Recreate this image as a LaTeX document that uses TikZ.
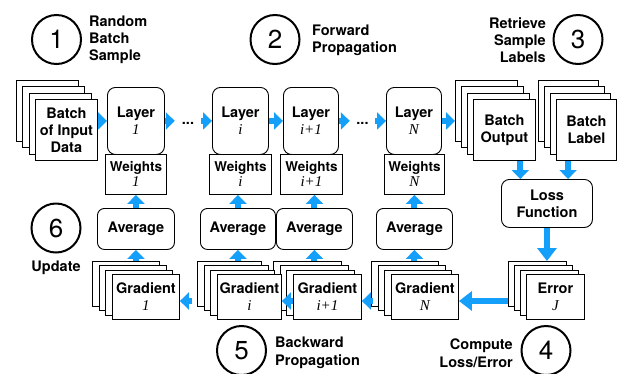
\documentclass[tikz,border=0pt]{standalone}
\usepackage{fontspec}
\setmainfont{TeX Gyre Heros}
\newfontfamily\varfont{Liberation Serif}
\usetikzlibrary{arrows.meta,calc}
\definecolor{arrowblue}{RGB}{20,160,250}
\newcommand\varlab[1]{{\varfont\mdseries\itshape\fontsize{15}{16}\selectfont #1}}
\tikzset{
  sheet/.style={draw=black, fill=white, line width=0.9pt, inner sep=0pt},
  boxtext/.style={font=\bfseries\fontsize{14.5}{17}\selectfont, align=center},
  wtext/.style={font=\bfseries\fontsize{13.5}{15}\selectfont, align=center},
  roundbox/.style={draw=black, fill=white, line width=0.9pt, inner sep=0pt, rounded corners=8pt},
  barrow/.style={draw=arrowblue, line width=6pt, -{Triangle[width=17pt,length=9pt]}},
  bigarrow/.style={draw=arrowblue, line width=6pt, -{Triangle[width=19pt,length=13pt]}},
  stepcircle/.style={circle, draw=black, line width=2pt, minimum size=49pt, inner sep=0pt, font=\fontsize{26}{26}\selectfont},
  lbl/.style={font=\bfseries\fontsize{14.5}{17}\selectfont, inner sep=0pt},
}
% #1 name, #2 x back, #3 y back, #4 w, #5 h, #6 dx, #7 dy, #8 text
\newcommand\sheetstack[8]{%
  \foreach \k in {0,1,2}{%
    \node[sheet, minimum width=#4pt, minimum height=#5pt, anchor=north west] (#1-\k) at ({#2+\k*#6},{#3+\k*#7}) {};
  }
  \node[sheet, boxtext, minimum width=#4pt, minimum height=#5pt, anchor=north west] (#1) at ({#2+3*#6},{#3+3*#7}) {#8};
}
\begin{document}
\begin{tikzpicture}[x=1pt,y=-1pt]
\useasboundingbox (0,0) rectangle (617,373);

% step circles and labels
\node[stepcircle] (c1) at (56.5,39.5) {1};
\node[stepcircle] (c2) at (275,39.5) {2};
\node[stepcircle] (c3) at (578,39.5) {3};
\node[stepcircle] (c6) at (56,228) {6};
\node[stepcircle] (c5) at (241.5,350.5) {5};
\node[stepcircle] (c4) at (546,350.5) {4};

\node[lbl, anchor=west, align=left] (t1) at (89,40) {Random\\Batch\\Sample};
\node[lbl, anchor=west, align=left] (t2) at (312,40.5) {Forward\\Propagation};
\node[lbl, anchor=east, align=right] (t3) at (546,40) {Retrieve\\Sample\\Labels};
\node[lbl] (t6) at (56,268) {Update};
\node[lbl, anchor=west, align=left, font=\bfseries\fontsize{14.5}{18}\selectfont] (t5) at (275,353) {Backward\\Propagation};
\node[lbl, anchor=east, align=right, font=\bfseries\fontsize{14.5}{18}\selectfont] (t4) at (513,353) {Compute\\Loss/Error};

% top row stacks
\sheetstack{in}{16}{80}{62}{61}{6.33}{6.33}{Batch\\of Input\\Data}
\sheetstack{bo}{455}{80}{62}{61}{6}{6.33}{Batch\\Output}
\sheetstack{bl}{538}{80}{60}{61}{6}{6.33}{Batch\\Label}

% layers
\node[roundbox, boxtext, anchor=north west, minimum width=57pt, minimum height=67pt] (L1) at (107,87) {Layer\\\varlab{1}};
\node[roundbox, boxtext, anchor=north west, minimum width=56pt, minimum height=67pt] (Li) at (212,87) {Layer\\\varlab{i}};
\node[roundbox, boxtext, anchor=north west, minimum width=55pt, minimum height=67pt] (Lj) at (283,87) {Layer\\\varlab{i+1}};
\node[roundbox, boxtext, anchor=north west, minimum width=55pt, minimum height=67pt] (LN) at (386,87) {Layer\\\varlab{N}};

% weights
\node[sheet, wtext, anchor=north west, minimum width=61pt, minimum height=40pt] (W1) at (105,154) {Weights\\\varlab{1}};
\node[sheet, wtext, anchor=north west, minimum width=62pt, minimum height=40pt] (Wi) at (209,154) {Weights\\\varlab{i}};
\node[sheet, wtext, anchor=north west, minimum width=62pt, minimum height=40pt] (Wj) at (280,154) {Weights\\\varlab{i+1}};
\node[sheet, wtext, anchor=north west, minimum width=60pt, minimum height=40pt] (WN) at (384,154) {Weights\\\varlab{N}};

% averages
\node[roundbox, boxtext, rounded corners=7pt, anchor=north west, minimum width=77pt, minimum height=41pt] (A1) at (97,208) {Average};
\node[roundbox, boxtext, rounded corners=7pt, anchor=north west, minimum width=75pt, minimum height=41pt] (Ai) at (200,208) {Average};
\node[roundbox, boxtext, rounded corners=7pt, anchor=north west, minimum width=76pt, minimum height=41pt] (Aj) at (276,208) {Average};
\node[roundbox, boxtext, rounded corners=7pt, anchor=north west, minimum width=76pt, minimum height=41pt] (AN) at (376,208) {Average};

% loss function
\node[roundbox, boxtext, anchor=north west, minimum width=91pt, minimum height=48pt] (LF) at (501,179) {Loss\\Function};

% gradient stacks (right to left so fronts cover)
\sheetstack{err}{508}{261}{58}{45}{6}{4.33}{Error\\\varlab{J}}
\sheetstack{gN}{371}{261}{67}{45}{6.67}{4.33}{Gradient\\\varlab{N}}
\sheetstack{gj}{273}{261}{68}{45}{6.67}{4.33}{Gradient\\\varlab{i+1}}
\sheetstack{gi}{197}{261}{64}{45}{6.67}{4.33}{Gradient\\\varlab{i}}
\sheetstack{g1}{92}{261}{67}{45}{6.67}{4.33}{Gradient\\\varlab{1}}

% dots
\node[lbl, minimum width=26pt] (d1) at (188,123) {...};
\node[lbl, minimum width=25pt] (d2) at (362.5,123) {...};

% forward arrows
\draw[barrow] (L1.west -| in.east) -- (L1.west);
\draw[barrow] (L1.east) -- (L1.east -| d1.west);
\draw[barrow] (d1.east |- Li.west) -- (Li.west);
\draw[barrow] (Li.east) -- (Lj.west);
\draw[barrow] (Lj.east) -- (Lj.east -| d2.west);
\draw[barrow] (d2.east |- LN.west) -- (LN.west);
\draw[barrow] (LN.east) -- (LN.east -| bo-0.west);

% to loss function
\coordinate (lfa) at ($(LF.north west)!0.21!(LF.north east)$);
\coordinate (lfb) at ($(LF.north west)!0.73!(LF.north east)$);
\draw[barrow] (lfa |- bo.south) -- (lfa);
\draw[barrow] (lfb |- bl.south) -- (lfb);
\draw[bigarrow] (LF.south) -- (LF.south |- err-0.north);

% backward arrows
\coordinate (gy) at (0,301);
\draw[bigarrow] (err-0.west |- gy) -- (gN.east |- gy);
\draw[barrow] ([xshift=11pt]gj.east |- gy) -- (gj.east |- gy);
\draw[barrow] (gj.west |- gy) -- (gi.east |- gy);
\draw[barrow] ([xshift=12pt]g1.east |- gy) -- (g1.east |- gy);

% gradient -> average -> weights
\foreach \g/\a/\w in {g1/A1/W1, gi/Ai/Wi, gj/Aj/Wj, gN/AN/WN}{
  \draw[barrow] (\a.south |- \g-0.north) -- (\a.south);
  \draw[barrow] (\a.north) -- (\a.north |- \w.south);
}
\end{tikzpicture}
\end{document}
